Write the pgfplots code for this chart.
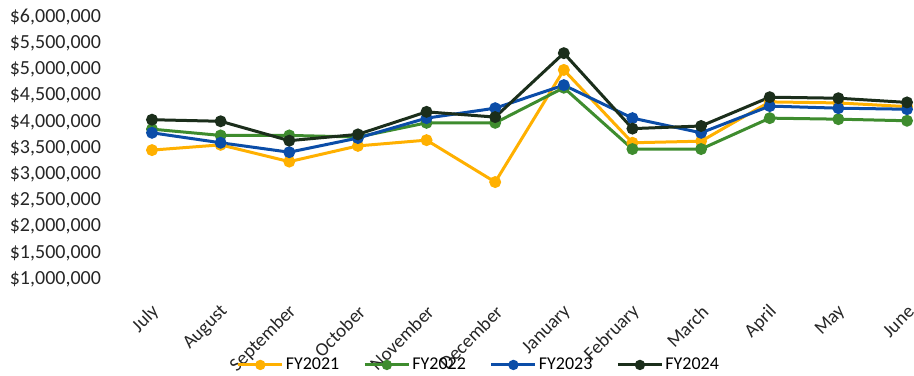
\documentclass[border=0pt]{standalone}
\usepackage{pgfplots}
\pgfplotsset{compat=1.18}
\usepackage{fontspec}
\setmainfont{Carlito}
\definecolor{c21}{HTML}{FFB000}
\definecolor{c22}{HTML}{3E8C2E}
\definecolor{c23}{HTML}{0B4DA8}
\definecolor{c24}{HTML}{1B2E1B}
\begin{document}
\begin{tikzpicture}
\useasboundingbox (-76pt,-48pt) rectangle (381pt,139.5pt);
\begin{axis}[
  at={(0,0)}, anchor=south west,
  scale only axis, width=377.5pt, height=131pt,
  xmin=0, xmax=11, ymin=1000000, ymax=6000000,
  axis line style={draw=none}, tick style={draw=none},
  xtick={0,...,11},
  xticklabels={July,August,September,October,November,December,January,February,March,April,May,June},
  xticklabel style={rotate=45, anchor=east, font=\fontsize{9.5}{11}\selectfont, inner sep=0pt, xshift=-9pt, yshift=-12pt, text=black!85},
  ytick={1000000,1500000,2000000,2500000,3000000,3500000,4000000,4500000,5000000,5500000,6000000},
  yticklabels={{\$1,000,000},{\$1,500,000},{\$2,000,000},{\$2,500,000},{\$3,000,000},{\$3,500,000},{\$4,000,000},{\$4,500,000},{\$5,000,000},{\$5,500,000},{\$6,000,000}},
  yticklabel style={font=\fontsize{10}{12}\selectfont, xshift=-22pt, text=black!85},
  scaled y ticks=false,
  clip=false,
  legend style={at={(0.433,-0.328)}, anchor=center, draw=none, fill=none,
    legend columns=4, font=\fontsize{9}{11}\selectfont,
    /tikz/every odd column/.append style={column sep=0pt},
    /tikz/every even column/.append style={column sep=11pt},
    nodes={inner xsep=1pt}},
  legend image code/.code={\draw[mark repeat=2,mark phase=2,#1,mark size=1.8pt] plot coordinates {(0pt,0pt) (11pt,0pt) (22pt,0pt)};},
  every axis plot/.append style={line width=1.5pt, mark=*, mark size=2.2pt},
]
\addplot[color=c21, mark options={fill=c21}] coordinates {
(0,3460000) (1,3560000) (2,3240000) (3,3540000) (4,3650000) (5,2850000)
(6,4990000) (7,3600000) (8,3630000) (9,4380000) (10,4360000) (11,4290000)};
\addplot[color=c22, mark options={fill=c22}] coordinates {
(0,3860000) (1,3740000) (2,3740000) (3,3710000) (4,3980000) (5,3980000)
(6,4650000) (7,3480000) (8,3480000) (9,4070000) (10,4050000) (11,4020000)};
\addplot[color=c23, mark options={fill=c23}] coordinates {
(0,3790000) (1,3600000) (2,3420000) (3,3690000) (4,4070000) (5,4260000)
(6,4700000) (7,4070000) (8,3790000) (9,4300000) (10,4260000) (11,4240000)};
\addplot[color=c24, mark options={fill=c24}] coordinates {
(0,4040000) (1,4010000) (2,3640000) (3,3760000) (4,4190000) (5,4090000)
(6,5310000) (7,3870000) (8,3920000) (9,4470000) (10,4450000) (11,4370000)};
\legend{FY2021,FY2022,FY2023,FY2024}
\end{axis}
\end{tikzpicture}
\end{document}
